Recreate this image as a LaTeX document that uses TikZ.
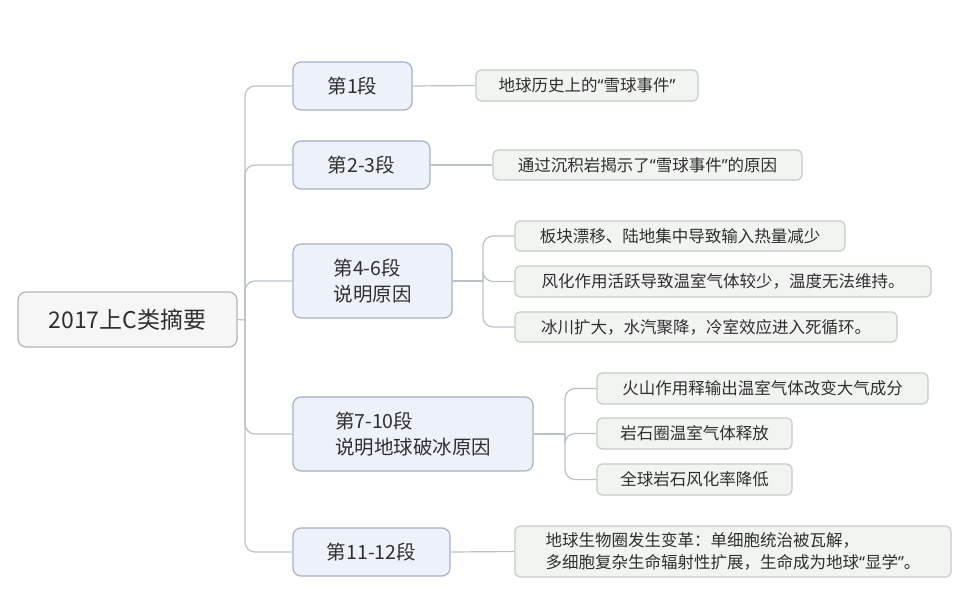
\documentclass[tikz,border=0pt]{standalone}
\usepackage{fontspec}
\setmainfont{Noto Sans CJK SC}
\newfontfamily\quotefont{Noto Sans}
\newcommand{\openq}{{\quotefont “}}
\newcommand{\closeq}{{\quotefont ”}}
\definecolor{ink}{HTML}{2F2F2F}
\definecolor{linkgray}{HTML}{BAC2C8}
\definecolor{rootfill}{HTML}{F6F6F6}
\definecolor{rootline}{HTML}{B4B4B4}
\definecolor{topicfill}{HTML}{EDF1F9}
\definecolor{topicline}{HTML}{A7B1C4}
\definecolor{notefill}{HTML}{F1F4F1}
\definecolor{noteline}{HTML}{C6CDC6}
\tikzset{
  rootbox/.style={draw=rootline,fill=rootfill,rounded corners=8pt,line width=1.2pt,
    text=ink,font=\fontsize{23}{27}\selectfont},
  topicbox/.style={draw=topicline,fill=topicfill,rounded corners=8pt,line width=1.2pt,
    text=ink,align=left,font=\fontsize{19.5}{26}\selectfont},
  notebox/.style={draw=noteline,fill=notefill,rounded corners=5pt,line width=1.2pt,
    text=ink,align=left,font=\fontsize{16.5}{22}\selectfont},
  link/.style={draw=linkgray,line width=1.2pt,rounded corners=10pt},
}
\begin{document}
\begin{tikzpicture}[x=1pt,y=-1pt]
    % Canvas
    \fill[white] (0,0) rectangle (964,589);
    \useasboundingbox (0,0) rectangle (964,589);

    % Root
    \node[rootbox,minimum width=219pt,minimum height=55pt] (root) at (127.5,319.5) {2017上C类摘要};

    % Paragraph groups
    \node[topicbox,minimum width=119pt,minimum height=48pt] (p1) at (352.5,86) {第1段};
    \node[topicbox,minimum width=137pt,minimum height=48pt] (p2) at (361.5,165) {第2-3段};
    \node[topicbox,minimum width=159pt,minimum height=74pt] (p3) at (372.5,281) {第4-6段\\说明原因};
    \node[topicbox,minimum width=240pt,minimum height=74pt] (p4) at (413,434) {第7-10段\\说明地球破冰原因};
    \node[topicbox,minimum width=157pt,minimum height=48pt] (p5) at (371.5,552) {第11-12段};

    % Notes
    \node[notebox,minimum width=222pt,minimum height=31pt] (n1) at (587,85.5) {地球历史上的\openq 雪球事件\closeq};
    \node[notebox,minimum width=309pt,minimum height=30pt] (n2) at (647.5,165) {通过沉积岩揭示了\openq 雪球事件\closeq 的原因};
    \node[notebox,minimum width=330pt,minimum height=30pt] (n31) at (680,236) {板块漂移、陆地集中导致输入热量减少};
    \node[notebox,minimum width=416pt,minimum height=31pt] (n32) at (723,281.5) {风化作用活跃导致温室气体较少，温度无法维持。};
    \node[notebox,minimum width=382pt,minimum height=30pt] (n33) at (706,327) {冰川扩大，水汽聚降，冷室效应进入死循环。};
    \node[notebox,minimum width=331pt,minimum height=31pt] (n41) at (762.5,388.5) {火山作用释输出温室气体改变大气成分};
    \node[notebox,minimum width=195pt,minimum height=31pt] (n42) at (694.5,433.5) {岩石圈温室气体释放};
    \node[notebox,minimum width=195pt,minimum height=31pt] (n43) at (694.5,479.5) {全球岩石风化率降低};
    \node[notebox,minimum width=436pt,minimum height=51pt] (n5) at (733,551.5) {地球生物圈发生变革：单细胞统治被瓦解，\\多细胞复杂生命辐射性扩展，生命成为地球\openq 显学\closeq 。};

    % Trunk from root
    \coordinate (hub) at (245,320);
    \draw[link] (root.east) -- (hub);
    \foreach \t in {p1,p2,p3,p4,p5}
        \draw[link] (hub) |- (\t.west);

    % Single notes
    \draw[link] (p1.east) -- (n1.west);
    \draw[link] (p2.east) -- (n2.west);
    \draw[link] (p5.east) -- (n5.west);

    % Branch 4-6
    \coordinate (hub3) at (483,281);
    \draw[link] (p3.east) -- (hub3);
    \foreach \n in {n31,n32,n33}
        \draw[link] (hub3) |- (\n.west);

    % Branch 7-10
    \coordinate (hub4) at (565,434);
    \draw[link] (p4.east) -- (hub4);
    \foreach \n in {n41,n42,n43}
        \draw[link] (hub4) |- (\n.west);
\end{tikzpicture}
\end{document}
